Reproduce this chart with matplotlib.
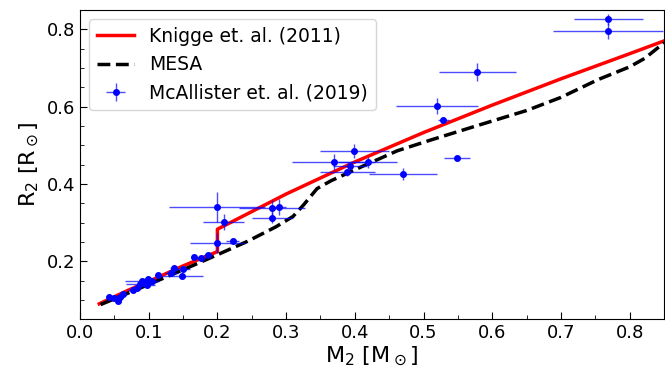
import numpy as np
import matplotlib
matplotlib.use('Agg')
import matplotlib.pyplot as plt
from matplotlib.ticker import MultipleLocator

# McAllister et al. (2019) donor masses / radii with errors
m2 = [0.042, 0.050, 0.055, 0.058, 0.062, 0.077, 0.083, 0.087, 0.090, 0.094,
      0.097, 0.099, 0.101, 0.105, 0.114, 0.133, 0.137, 0.149, 0.150, 0.166,
      0.176, 0.186, 0.1995, 0.222, 0.1995, 0.209, 0.280, 0.290, 0.280,
      0.369, 0.3995, 0.393, 0.419, 0.389, 0.470, 0.520, 0.529, 0.549,
      0.578, 0.769, 0.769]
r2 = [0.107, 0.105, 0.097, 0.108, 0.115, 0.126, 0.131, 0.140, 0.149, 0.144,
      0.139, 0.155, 0.146, 0.150, 0.165, 0.170, 0.183, 0.162, 0.180, 0.211,
      0.208, 0.215, 0.2465, 0.253, 0.340, 0.302, 0.338, 0.340, 0.313,
      0.457, 0.485, 0.446, 0.456, 0.430, 0.426, 0.602, 0.566, 0.466,
      0.690, 0.826, 0.796]
m2_err = [0.004, 0.005, 0.004, 0.006, 0.005, 0.008, 0.006, 0.020, 0.025, 0.010,
          0.012, 0.008, 0.008, 0.006, 0.004, 0.010, 0.006, 0.030, 0.010, 0.005,
          0.006, 0.006, 0.040, 0.009, 0.070, 0.030, 0.048, 0.010, 0.030,
          0.060, 0.050, 0.025, 0.043, 0.040, 0.050, 0.060, 0.008, 0.019,
          0.056, 0.050, 0.080]
r2_err = [0.003, 0.004, 0.006, 0.004, 0.004, 0.004, 0.004, 0.004, 0.008, 0.005,
          0.006, 0.005, 0.005, 0.004, 0.004, 0.004, 0.004, 0.006, 0.005, 0.004,
          0.004, 0.004, 0.026, 0.004, 0.039, 0.020, 0.020, 0.020, 0.015,
          0.020, 0.018, 0.008, 0.015, 0.010, 0.015, 0.020, 0.005, 0.005,
          0.023, 0.014, 0.020]

# Knigge et al. (2011) donor sequence
m_knigge = [0.028, 0.07, 0.10, 0.15, 0.20, 0.20, 0.30, 0.40, 0.50, 0.60, 0.70, 0.80, 0.85]
r_knigge = [0.090, 0.125, 0.148, 0.188, 0.225, 0.283, 0.374, 0.457, 0.533, 0.604, 0.672, 0.737, 0.770]

# MESA track
m_mesa = [0.03, 0.10, 0.15, 0.195, 0.243, 0.285, 0.310, 0.325, 0.345, 0.365,
          0.414, 0.462, 0.511, 0.580, 0.650, 0.700, 0.754, 0.800, 0.822, 0.850]
r_mesa = [0.088, 0.140, 0.178, 0.213, 0.251, 0.289, 0.316, 0.345, 0.388, 0.408,
          0.448, 0.486, 0.514, 0.552, 0.590, 0.624, 0.670, 0.703, 0.725, 0.765]

fig = plt.figure(figsize=(6.65, 3.71), dpi=100)
ax = fig.add_axes([0.1203, 0.1394, 0.8782, 0.8336])

ax.plot(m_knigge, r_knigge, color='red', lw=2.5, label='Knigge et. al. (2011)')
ax.plot(m_mesa, r_mesa, color='black', lw=2.5, ls='--', label='MESA')
ax.errorbar(m2, r2, xerr=m2_err, yerr=r2_err, fmt='o', color='blue', ms=4,
            ecolor=(0, 0, 1, 0.7), elinewidth=1, label='McAllister et. al. (2019)')

ax.set_xlim(0, 0.85)
ax.set_ylim(0.05, 0.85)
ax.xaxis.set_major_locator(MultipleLocator(0.1))
ax.xaxis.set_minor_locator(MultipleLocator(0.05))
ax.yaxis.set_major_locator(MultipleLocator(0.2))
ax.yaxis.set_minor_locator(MultipleLocator(0.05))
ax.tick_params(which='both', direction='in', labelsize=13)
ax.tick_params(which='major', length=5)
ax.tick_params(which='minor', length=3)

ax.set_xlabel(r'M$_2$ [M$_\odot$]', fontsize=16, labelpad=2)
ax.set_ylabel(r'R$_2$ [R$_\odot$]', fontsize=16, labelpad=4)
ax.legend(loc='upper left', fontsize=13.5)

fig.savefig('out.png', dpi=100)
